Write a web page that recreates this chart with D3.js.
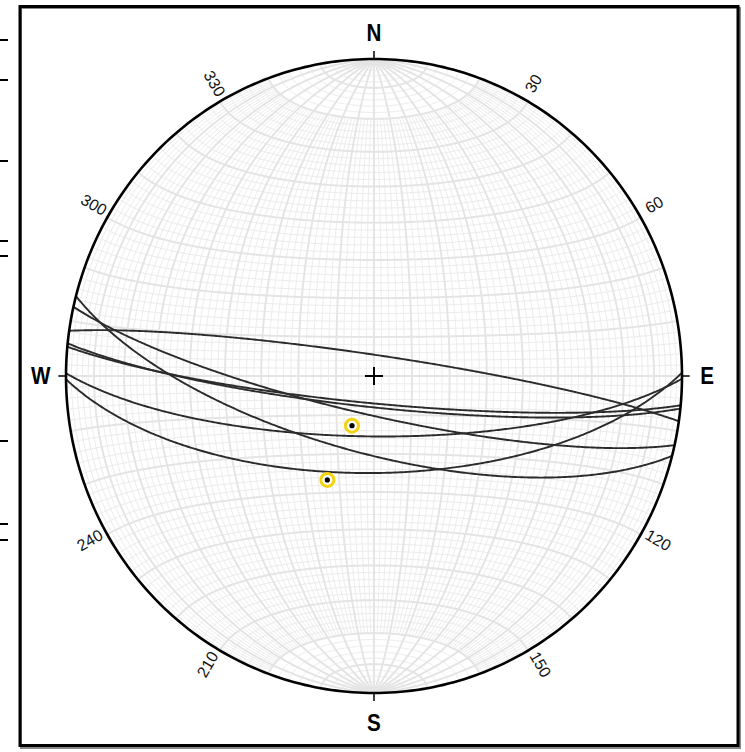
<!DOCTYPE html>
<html>
<head>
<meta charset="utf-8">
<script src="https://cdn.jsdelivr.net/npm/d3@7"></script>
<style>
  body { margin: 0; background: #fff; }
  svg { display: block; }
</style>
</head>
<body>
<svg id="chart" width="745" height="752"></svg>
<script>
// planes: right-hand-rule strike / dip (lower hemisphere, equal area)
const planeStrikes = [104.6, 102.6, 278.2, 95.3, 95.9, 90.5, 89.4];
const planeDips    = [70,    80,    84.6,  83,   82,   74.5, 65];

// lineations: trend / plunge
const pointTrends  = [204.5, 204.8];
const pointPlunges = [76, 60.4];

// rim labels
const azLabels = [30, 60, 120, 150, 210, 240, 300, 330];
const cardinalNames = ["N", "E", "S", "W"];
const cardinalAz = [0, 90, 180, 270];

// net spacing (degrees)
const gridStep = 2;
const gridMajor = 10;
const capAngle = 20;

// little marks on the left edge of the scan
const cropMarks = [40, 80, 161, 241, 256, 441, 524, 540];

const rad = Math.PI / 180;
const cx = 374, cy = 376, rx = 308, ry = 317;

const svg = d3.select("#chart");

const x = d3.scaleLinear().domain([-1, 1]).range([cx - rx, cx + rx]);
const y = d3.scaleLinear().domain([-1, 1]).range([cy + ry, cy - ry]);

// (east, north, down) -> equal-area net coords
const project = (v) => {
  let [e, n, dn] = v;
  if (dn < 0) { e = -e; n = -n; dn = -dn; }
  const len = Math.hypot(e, n, dn);
  e /= len; n /= len; dn /= len;
  const plunge = Math.asin(Math.min(1, dn));
  const r = Math.SQRT2 * Math.sin((Math.PI / 2 - plunge) / 2);
  const h = Math.hypot(e, n);
  if (h < 1e-12) return [0, 0];
  return [r * e / h, r * n / h];
};

const line = d3.line()
  .x(d => x(d[0]))
  .y(d => y(d[1]));

const combine = (a, b, t) => {
  const c = Math.cos(t * rad), s = Math.sin(t * rad);
  return [c * a[0] + s * b[0], c * a[1] + s * b[1], c * a[2] + s * b[2]];
};

const greatCircle = (strike, dip) => {
  const s = strike * rad, d = dip * rad;
  const sv = [Math.sin(s), Math.cos(s), 0];
  const dv = [Math.cos(d) * Math.cos(s), -Math.cos(d) * Math.sin(s), Math.sin(d)];
  return d3.range(0, 180.001, 0.5).map(t => project(combine(sv, dv, t)));
};

// meridian of the net: contains the N-S axis, dipping east or west
const meridian = (dip, side, from, to) => {
  const d = dip * rad;
  const nv = [0, 1, 0];
  const dv = [side * Math.cos(d), 0, Math.sin(d)];
  return d3.range(from, to + 0.001, 0.5).map(t => project(combine(nv, dv, t)));
};

// small circle around the N-S axis
const smallCircle = (alpha) => {
  const a = alpha * rad;
  return d3.range(0, 180.001, 1).map(t => project([
    Math.sin(a) * Math.cos(t * rad), Math.cos(a), Math.sin(a) * Math.sin(t * rad)
  ]));
};

const primitive = d3.range(0, 360.001, 1).map(a => [Math.sin(a * rad), Math.cos(a * rad)]);

// background
svg.append("path")
  .attr("d", line(primitive) + "Z")
  .attr("fill", "#ffffff");

// net
const gGrid = svg.append("g").attr("fill", "none");
const minorLines = [];
const majorLines = [];

d3.range(gridStep, 90 + 0.001, gridStep).forEach(dip => {
  const major = dip % gridMajor === 0;
  [1, -1].forEach(side => {
    if (dip === 90 && side === -1) return;
    const pts = major ? meridian(dip, side, 0, 180) : meridian(dip, side, capAngle, 180 - capAngle);
    (major ? majorLines : minorLines).push(pts);
  });
});

d3.range(gridStep, 180, gridStep).forEach(alpha => {
  const major = alpha % gridMajor === 0;
  (major ? majorLines : minorLines).push(smallCircle(alpha));
});

gGrid.selectAll("path.minor")
  .data(minorLines)
  .join("path")
  .attr("class", "minor")
  .attr("d", line)
  .attr("stroke", "#ececec")
  .attr("stroke-width", 1);

gGrid.selectAll("path.major")
  .data(majorLines)
  .join("path")
  .attr("class", "major")
  .attr("d", line)
  .attr("stroke", "#e4e4e4")
  .attr("stroke-width", 1.9);

// great circles
svg.append("g")
  .attr("fill", "none")
  .selectAll("path")
  .data(planeStrikes.map((s, i) => greatCircle(s, planeDips[i])))
  .join("path")
  .attr("d", line)
  .attr("stroke", "#2b2b2b")
  .attr("stroke-width", 1.9);

// primitive
svg.append("path")
  .attr("d", line(primitive) + "Z")
  .attr("fill", "none")
  .attr("stroke", "#000")
  .attr("stroke-width", 2.6);

// centre cross
svg.append("path")
  .attr("d", `M${x(0) - 9},${y(0)}H${x(0) + 9}M${x(0)},${y(0) - 9}V${y(0) + 9}`)
  .attr("stroke", "#000")
  .attr("stroke-width", 2);

// lineations
const pts = pointTrends.map((t, i) => {
  const p = pointPlunges[i] * rad, tr = t * rad;
  return project([Math.cos(p) * Math.sin(tr), Math.cos(p) * Math.cos(tr), Math.sin(p)]);
});
const gPts = svg.append("g");
gPts.selectAll("circle.ring")
  .data(pts)
  .join("circle")
  .attr("class", "ring")
  .attr("cx", d => x(d[0]))
  .attr("cy", d => y(d[1]))
  .attr("r", 6.5)
  .attr("fill", "#fff")
  .attr("stroke", "#f5d20f")
  .attr("stroke-width", 3);
gPts.selectAll("circle.dot")
  .data(pts)
  .join("circle")
  .attr("class", "dot")
  .attr("cx", d => x(d[0]))
  .attr("cy", d => y(d[1]))
  .attr("r", 2.6)
  .attr("fill", "#000");

// cardinal ticks and labels
const rim = (az, k) => [x(k * Math.sin(az * rad)), y(k * Math.cos(az * rad))];
const gCard = svg.append("g");
cardinalAz.forEach((az, i) => {
  const a = rim(az, 1), b = rim(az, 1.025);
  gCard.append("line")
    .attr("x1", a[0]).attr("y1", a[1])
    .attr("x2", b[0]).attr("y2", b[1])
    .attr("stroke", "#000")
    .attr("stroke-width", 1.5);
  const p = rim(az, az === 180 ? 1.095 : 1.082);
  gCard.append("text")
    .attr("transform", `translate(${p[0]},${p[1]}) scale(0.86,1)`)
    .attr("text-anchor", "middle")
    .attr("dominant-baseline", "central")
    .attr("font-family", "'Liberation Sans', Arial, sans-serif")
    .attr("font-weight", "bold")
    .attr("font-size", 24)
    .text(cardinalNames[i]);
});

// degree labels along the rim, written along the radius
svg.append("g")
  .selectAll("text")
  .data(azLabels)
  .join("text")
  .attr("transform", az => {
    const p = rim(az, 1.058);
    const rot = az < 180 ? az - 90 : az - 270;
    return `translate(${p[0]},${p[1]}) rotate(${rot})`;
  })
  .attr("y", -4)
  .attr("text-anchor", "middle")
  .attr("dominant-baseline", "central")
  .attr("font-family", "'Liberation Sans', Arial, sans-serif")
  .attr("font-size", 16)
  .attr("fill", "#111")
  .text(d => d);

// frame
svg.append("rect")
  .attr("x", 21).attr("y", 8)
  .attr("width", 719).attr("height", 740)
  .attr("fill", "none")
  .attr("stroke", "#888")
  .attr("stroke-width", 2);
svg.append("rect")
  .attr("x", 20).attr("y", 6.5)
  .attr("width", 718).attr("height", 739)
  .attr("fill", "none")
  .attr("stroke", "#000")
  .attr("stroke-width", 3);

svg.append("g")
  .selectAll("line")
  .data(cropMarks)
  .join("line")
  .attr("x1", 0).attr("x2", 8)
  .attr("y1", d => d).attr("y2", d => d)
  .attr("stroke", "#000")
  .attr("stroke-width", 2);
</script>
</body>
</html>
